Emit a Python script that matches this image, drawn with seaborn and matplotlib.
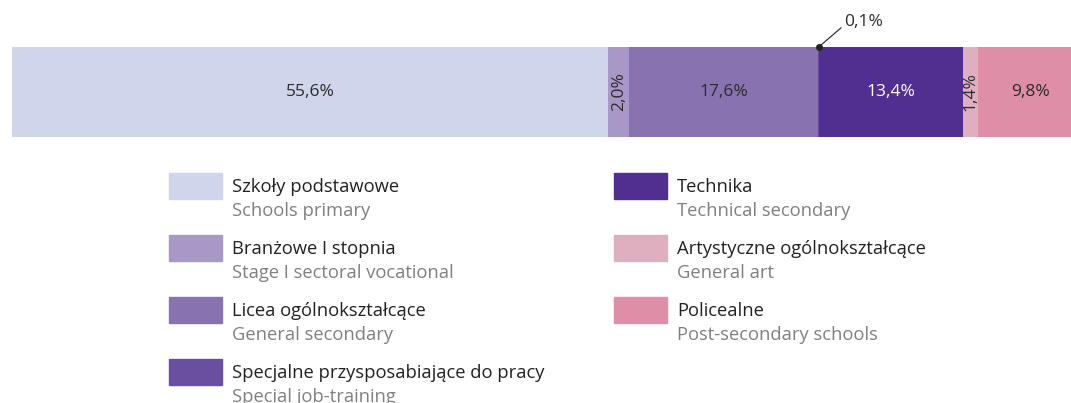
import numpy as np
import seaborn as sns
import matplotlib.pyplot as plt
from matplotlib.patches import Rectangle

# data
names_pl = ["Szkoły podstawowe", "Branżowe I stopnia", "Licea ogólnokształcące",
            "Specjalne przysposabiające do pracy", "Technika",
            "Artystyczne ogólnokształcące", "Policealne"]
names_en = ["Schools primary", "Stage I sectoral vocational", "General secondary",
            "Special job-training", "Technical secondary", "General art",
            "Post-secondary schools"]
shares = [55.6, 2.0, 17.6, 0.1, 13.4, 1.4, 9.8]
labels = ["55,6%", "2,0%", "17,6%", "0,1%", "13,4%", "1,4%", "9,8%"]
colors = ["#cfd5ea", "#a898c8", "#8872b0", "#6a4fa0", "#512f91", "#dfafc0", "#de8ea6"]

sns.set_theme(style="white")
plt.rcParams["font.family"] = ["Open Sans", "DejaVu Sans"]

W, H = 1071, 403
fig = plt.figure(figsize=(W / 100, H / 100), dpi=100)
ax = fig.add_axes([12 / W, 1 - 137 / H, 1 - 12 / W, 90 / H])

cum = np.cumsum(shares)
starts = cum - np.array(shares)
# stacked bar: draw cumulative totals from the widest down
for i in reversed(range(len(shares))):
    sns.barplot(x=[cum[i]], y=[0], orient="h", color=colors[i], width=1,
                linewidth=0, saturation=1, ax=ax)

ax.set_xlim(0, (W - 12) / 10.72)
ax.set_ylim(0.5, -0.5)
ax.axis("off")

for i, (s, st, lab) in enumerate(zip(shares, starts, labels)):
    mid = st + s / 2
    if s >= 5:
        ax.text(mid, 0, lab, ha="center", va="center", fontsize=12.5,
                color="white" if i == 4 else "#2b2b2b")
    elif s >= 1:
        ax.text(mid, 0, lab, ha="center", va="center", fontsize=12.5,
                rotation=90, color="#2b2b2b")
    else:
        ax.plot([mid], [-0.5], "o", color="#222222", ms=4, clip_on=False)
        ax.annotate(lab, xy=(mid, -0.5), xytext=(mid + 2.4, -0.78),
                    ha="left", va="center", fontsize=12.5, color="#2b2b2b",
                    annotation_clip=False,
                    arrowprops=dict(arrowstyle="-", color="#222222", lw=0.8,
                                    shrinkA=0, shrinkB=0, relpos=(0, 0.3)))

# legend in two columns
for i, (pl, en, c) in enumerate(zip(names_pl, names_en, colors)):
    col, row = (0, i) if i < 4 else (1, i - 4)
    x0 = 169 if col == 0 else 614
    yc = 186 + row * 62
    fig.patches.append(Rectangle((x0 / W, 1 - (yc + 13) / H), 53 / W, 26 / H,
                                 transform=fig.transFigure, color=c))
    fig.text((x0 + 63) / W, 1 - (yc + 1) / H, pl, ha="left", va="center",
             fontsize=13.2, color="#222222")
    fig.text((x0 + 63) / W, 1 - (yc + 25) / H, en, ha="left", va="center",
             fontsize=13.2, color="#808080")

fig.savefig("out.png", dpi=100)
